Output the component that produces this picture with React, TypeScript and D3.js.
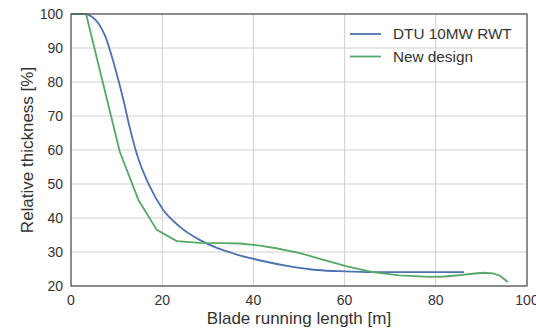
import React from "react";
import * as d3 from "d3";

const dtuX = [0, 3, 4.5, 6, 7.5, 9.6, 11.5, 12.9, 14.4, 17.3, 20.2, 23.9, 28.3, 32, 36, 41.5, 48, 54, 60, 66, 75, 86.2];
const dtuY = [100, 100, 99.3, 97.3, 93.5, 84.5, 74.7, 66.5, 59, 49.2, 42.4, 37.4, 33.5, 31.2, 29.4, 27.5, 25.8, 24.7, 24.3, 24.1, 24.1, 24.1];

const newX = [0, 3.3, 10.7, 14.8, 18.8, 23.2, 28.3, 33, 37, 41.4, 45, 50.2, 55, 60.5, 66.2, 72, 78.7, 82, 85.3, 88, 90.4, 92.5, 94, 95.8];
const newY = [100, 100, 59.5, 45.3, 36.5, 33.2, 32.7, 32.6, 32.5, 31.9, 31.1, 29.7, 27.8, 25.8, 24.1, 23.1, 22.7, 22.8, 23.2, 23.6, 23.9, 23.7, 23.1, 21.2];

const xTicks = [0, 20, 40, 60, 80, 100];
const yTicks = [20, 30, 40, 50, 60, 70, 80, 90, 100];
const seriesNames = ["DTU 10MW RWT", "New design"];
const seriesColors = ["#4C72B0", "#55A868"];

export default function App() {
  const left = 71, right = 527, top = 14, bottom = 286;
  const x = d3.scaleLinear().domain([0, 100]).range([left, right]);
  const y = d3.scaleLinear().domain([20, 100]).range([bottom, top]);
  const font = "'Liberation Sans', Arial, sans-serif";
  const textColor = "#333";

  const blueLine = d3
    .line<number>()
    .x((_, i) => x(dtuX[i]))
    .y((d) => y(d))
    .curve(d3.curveMonotoneX)(dtuY);
  const greenLine = d3
    .line<number>()
    .x((_, i) => x(newX[i]))
    .y((d) => y(d))
    .curve(d3.curveLinear)(newY);

  return (
    <svg width={536} height={330} style={{ position: "absolute", left: 0, top: 0, background: "#fff" }}>
      {xTicks.map((t) => (
        <line key={"gx" + t} x1={x(t)} x2={x(t)} y1={top} y2={bottom} stroke="#d0d0d0" strokeWidth={1} />
      ))}
      {yTicks.map((t) => (
        <line key={"gy" + t} x1={left} x2={right} y1={y(t)} y2={y(t)} stroke="#d0d0d0" strokeWidth={1} />
      ))}
      <path d={blueLine || ""} fill="none" stroke={seriesColors[0]} strokeWidth={1.8} />
      <path d={greenLine || ""} fill="none" stroke={seriesColors[1]} strokeWidth={1.8} />
      <rect x={left} y={top} width={right - left} height={bottom - top} fill="none" stroke="#555" strokeWidth={1.25} />
      {xTicks.map((t) => (
        <text key={"tx" + t} x={x(t)} y={305} textAnchor="middle" fontFamily={font} fontSize={14} fill={textColor}>
          {t}
        </text>
      ))}
      {yTicks.map((t) => (
        <text key={"ty" + t} x={63} y={y(t) + 5} textAnchor="end" fontFamily={font} fontSize={14} fill={textColor}>
          {t}
        </text>
      ))}
      <text x={299} y={324} textAnchor="middle" fontFamily={font} fontSize={17} fill={textColor}>
        Blade running length [m]
      </text>
      <text
        transform={`translate(32.5,${(top + bottom) / 2}) rotate(-90)`}
        textAnchor="middle"
        fontFamily={font}
        fontSize={17}
        fill={textColor}
      >
        Relative thickness [%]
      </text>
      {seriesNames.map((n, i) => (
        <g key={n}>
          <line x1={350} x2={381} y1={34 + i * 22.5} y2={34 + i * 22.5} stroke={seriesColors[i]} strokeWidth={1.8} />
          <text x={393} y={39.3 + i * 22.5} fontFamily={font} fontSize={15.3} fill={textColor}>
            {n}
          </text>
        </g>
      ))}
    </svg>
  );
}
